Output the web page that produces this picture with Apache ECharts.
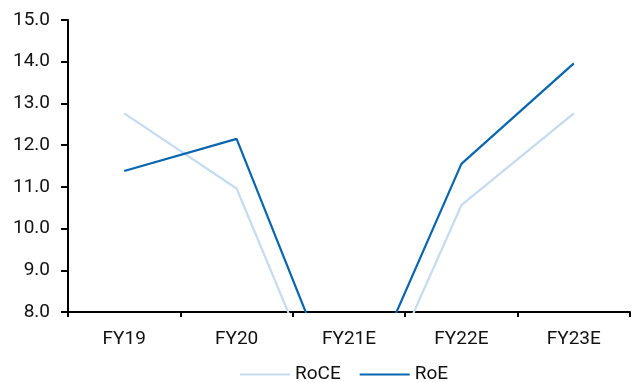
<!DOCTYPE html>
<html>
<head>
<meta charset="utf-8">
<script src="https://cdn.jsdelivr.net/npm/echarts@6/dist/echarts.min.js"></script>
<style>
html,body{margin:0;padding:0;background:#fff;}
#chart{width:633px;height:382px;}
</style>
</head>
<body>
<div id="chart"></div>
<script>
const categories = ['FY19', 'FY20', 'FY21E', 'FY22E', 'FY23E'];
const roce = [12.76, 10.96, 4.5, 10.56, 12.76];
const roe = [11.38, 12.15, 5.4, 11.55, 13.96];
const yTicks = { min: 8, max: 15, interval: 1 };

const FONT = 'Roboto, "DejaVu Sans Condensed", sans-serif';
const chart = echarts.init(document.getElementById('chart'), null, { renderer: 'canvas' });
chart.setOption({
  animation: false,
  backgroundColor: '#ffffff',
  textStyle: { fontFamily: FONT },
  grid: { left: 68, right: 3, top: 20, bottom: 70, containLabel: false },
  legend: {
    left: 235,
    top: 360,
    icon: 'rect',
    itemWidth: 50,
    itemHeight: 2,
    itemGap: 19,
    textStyle: { fontFamily: FONT, fontSize: 19, color: '#111' },
    data: ['RoCE', 'RoE']
  },
  xAxis: {
    type: 'category',
    data: categories,
    boundaryGap: true,
    axisLine: { onZero: false, lineStyle: { color: '#000', width: 2 } },
    axisTick: { show: true, length: 5, lineStyle: { color: '#000', width: 2 } },
    axisLabel: { fontFamily: FONT, fontSize: 19, color: '#111', margin: 18 },
    splitLine: { show: false }
  },
  yAxis: {
    type: 'value',
    min: yTicks.min,
    max: yTicks.max,
    interval: yTicks.interval,
    axisLine: { show: true, lineStyle: { color: '#000', width: 2 } },
    axisTick: { show: true, length: 7, lineStyle: { color: '#000', width: 2 } },
    axisLabel: { fontFamily: FONT, fontSize: 19, color: '#111', margin: 18,
      formatter: v => v.toFixed(1) },
    splitLine: { show: false }
  },
  series: [
    {
      name: 'RoCE', type: 'line', data: roce, symbol: 'none', clip: true,
      lineStyle: { color: '#c6dbef', width: 2.2 }, itemStyle: { color: '#c6dbef' }
    },
    {
      name: 'RoE', type: 'line', data: roe, symbol: 'none', clip: true,
      lineStyle: { color: '#0866b1', width: 2.2 }, itemStyle: { color: '#0866b1' }
    }
  ]
});
</script>
</body>
</html>
